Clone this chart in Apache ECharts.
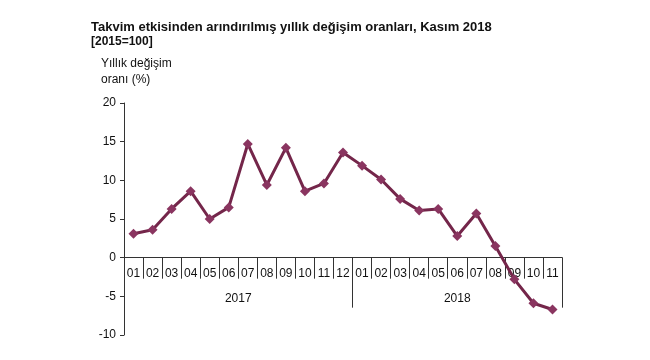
<!DOCTYPE html>
<html>
<head>
<meta charset="utf-8">
<script src="https://cdn.jsdelivr.net/npm/echarts@6/dist/echarts.min.js"></script>
<style>html,body{margin:0;padding:0;background:#fff}#c{width:650px;height:360px}</style>
</head>
<body>
<div id="c"></div>
<script>
var months = ['01','02','03','04','05','06','07','08','09','10','11','12',
              '01','02','03','04','05','06','07','08','09','10','11'];
var values = [3.1, 3.6, 6.3, 8.6, 5.0, 6.5, 14.7, 9.4, 14.2, 8.6, 9.6, 13.6,
              11.9, 10.1, 7.6, 6.1, 6.3, 2.8, 5.7, 1.5, -2.8, -5.9, -6.7];
var years = ['2017', '2018'];
var yearMonthCounts = [12, 11];
var yTicks = [-10, -5, 0, 5, 10, 15, 20];

var yearBounds = [0], yearCenters = [];
(function () {
  var acc = 0;
  for (var i = 0; i < yearMonthCounts.length; i++) {
    yearCenters.push(acc + yearMonthCounts[i] / 2);
    acc += yearMonthCounts[i];
    yearBounds.push(acc);
  }
})();

var gridTop = 103, gridBottom = 25, chartH = 360;
var yMin = yTicks[0], yMax = yTicks[yTicks.length - 1];
var gridH = chartH - gridTop - gridBottom;
// move the bottom x axes up to the zero line of the value axis
var zeroOffset = -gridH * (0 - yMin) / (yMax - yMin);

var font = 'Liberation Sans, Arial, sans-serif';
var chart = echarts.init(document.getElementById('c'), null, {renderer: 'canvas'});
chart.setOption({
  animation: false,
  textStyle: {fontFamily: font},
  title: [
    {text: 'Takvim etkisinden arındırılmış yıllık değişim oranları, Kasım 2018', left: 86, top: 16,
     textStyle: {fontSize: 13, fontWeight: 'bold', color: '#111', fontFamily: font}},
    {text: '[2015=100]', left: 86, top: 31,
     textStyle: {fontSize: 12, fontWeight: 'bold', color: '#111', fontFamily: font}},
    {text: 'Yıllık değişim\noranı (%)', left: 96, top: 51,
     textStyle: {fontSize: 12, fontWeight: 'normal', color: '#111', fontFamily: font, lineHeight: 16}}
  ],
  grid: {left: 124, right: 88, top: gridTop, bottom: gridBottom, containLabel: false, outerBoundsMode: 'none'},
  xAxis: [
    {
      type: 'category', data: months, boundaryGap: true, position: 'bottom', offset: zeroOffset,
      axisLine: {onZero: false, lineStyle: {color: '#333', width: 1}},
      axisTick: {show: true, interval: 0, length: 21, lineStyle: {color: '#333'}},
      axisLabel: {interval: 0, fontSize: 12, color: '#111', margin: 10, fontFamily: font},
      splitLine: {show: false}
    },
    {
      type: 'value', min: 0, max: months.length, position: 'bottom', offset: zeroOffset,
      axisLine: {show: false, onZero: false},
      axisTick: {show: true, length: 50, customValues: yearBounds, lineStyle: {color: '#333'}},
      axisLabel: {show: true, customValues: yearCenters, fontSize: 12, color: '#111', margin: 35, fontFamily: font,
                  formatter: function (v) { return years[yearCenters.indexOf(v)] || ''; }},
      splitLine: {show: false}
    }
  ],
  yAxis: {
    type: 'value', min: yMin, max: yMax, interval: 5,
    axisLine: {show: true, lineStyle: {color: '#333'}},
    axisTick: {show: true, length: 4, lineStyle: {color: '#333'}},
    axisLabel: {fontSize: 12, color: '#111', margin: 8, fontFamily: font},
    splitLine: {show: false}
  },
  series: [{
    type: 'line', data: values, xAxisIndex: 0,
    symbol: 'diamond', symbolSize: 10,
    lineStyle: {color: '#74264a', width: 3},
    itemStyle: {color: '#8a3560'}
  }]
});
</script>
</body>
</html>
